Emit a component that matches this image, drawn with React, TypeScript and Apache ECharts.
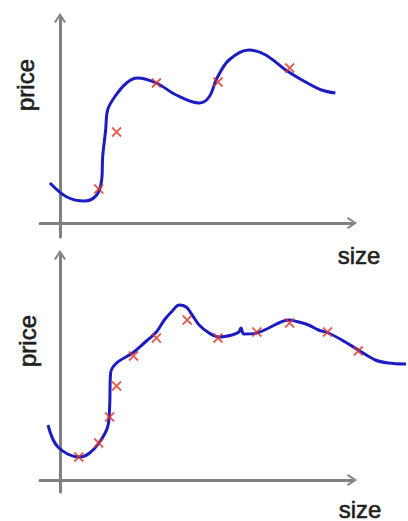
import React, { useEffect, useRef } from "react";
import * as echarts from "echarts";

// Top panel (smooth over-fit curve through 5 points)
const topCurveX = [-10, 7, 25, 37, 42, 43, 46, 48, 55, 67, 78, 97, 117, 140, 150, 158, 170, 190, 207, 227, 247, 263, 277];
const topCurveY = [40, 26, 22, 28, 43, 66, 93, 113, 126, 140, 145, 140, 128, 120, 126, 145, 163, 173, 168, 153, 141, 133, 130];
const topPointsX = [39, 57, 97, 159, 231];
const topPointsY = [34, 91, 140, 141, 155];

// Bottom panel (wiggly curve through 12 points)
const botCurveX = [-12, -2, 20, 30, 40, 48, 50, 51, 57, 73, 87, 97, 105, 113, 120, 127, 133, 140, 150, 160, 173, 180, 182, 185, 198, 210, 220, 230, 240, 250, 260, 270, 287, 300, 317, 330, 348];
const botCurveY = [55, 33, 23, 27, 38, 53, 73, 107, 117, 127, 139, 148, 160, 169, 175, 173, 165, 155, 147, 143, 145, 148, 152, 146, 147, 152, 157, 160, 158, 155, 150, 147, 138, 130, 120, 117, 116];
const botPointsX = [19, 39, 50, 57, 74, 97, 128, 159, 198, 231, 269, 300];
const botPointsY = [23, 37, 63, 94, 124, 142, 160, 142, 148, 157, 148, 129];

const axisTitleY = "price";
const axisTitleX = "size";

const zip = (xs: number[], ys: number[]) => xs.map((x, i) => [x, ys[i]]);

const AXIS_COLOR = "#808080";
const CURVE_COLOR = "#1c1cc0";
const MARK_COLOR = "#d63a2a";
const chevron = "path://M0 9 L6 0 L12 9 L10.2 10 L6 3.2 L1.8 10 Z";
const cross = "path://M0 0 L10 10 M10 0 L0 10";

function axisLine(show: boolean) {
  return {
    show,
    onZero: true,
    symbol: ["none", chevron],
    symbolSize: [13, 10],
    lineStyle: { color: AXIS_COLOR, width: 3 },
  };
}

export default function App() {
  const ref = useRef<HTMLDivElement>(null);
  useEffect(() => {
    if (!ref.current) return;
    const chart = echarts.init(ref.current, undefined, { renderer: "svg" });
    const mkX = (gi: number, max: number, show: boolean) => ({
      type: "value",
      gridIndex: gi,
      min: -20,
      max,
      show,
      axisLine: axisLine(show),
      axisTick: { show: false },
      axisLabel: { show: false },
      splitLine: { show: false },
    });
    const mkY = (gi: number, min: number, max: number, show: boolean) => ({
      type: "value",
      gridIndex: gi,
      min,
      max,
      show,
      axisLine: axisLine(show),
      axisTick: { show: false },
      axisLabel: { show: false },
      splitLine: { show: false },
    });
    const lineSeries = (gi: number, data: number[][]) => ({
      type: "line",
      xAxisIndex: gi,
      yAxisIndex: gi,
      data,
      smooth: 0.35,
      showSymbol: false,
      clip: false,
      lineStyle: { color: CURVE_COLOR, width: 3 },
      z: 3,
    });
    const scatterSeries = (gi: number, data: number[][]) => ({
      type: "scatter",
      xAxisIndex: gi,
      yAxisIndex: gi,
      data,
      clip: false,
      symbol: cross,
      symbolSize: 9,
      itemStyle: { color: "none", borderColor: MARK_COLOR, borderWidth: 1.8 },
      z: 4,
    });
    const textStyle = {
      fill: "#1f1f1f",
      stroke: "#1f1f1f",
      lineWidth: 0.6,
      fontSize: 24,
      fontFamily: "Liberation Sans, Arial, sans-serif",
    };
    chart.setOption({
      animation: false,
      backgroundColor: "#ffffff",
      grid: [
        // axis grids
        { left: 40, width: 312, top: 18, bottom: 284 },
        { left: 40, width: 312, top: 255, bottom: 29 },
        // data grids (same scale, wider so curves may run past the arrow)
        { left: 40, width: 370, top: 18, bottom: 284 },
        { left: 40, width: 370, top: 255, bottom: 29 },
      ],
      xAxis: [mkX(0, 292, true), mkX(1, 292, true), mkX(2, 350, false), mkX(3, 350, false)],
      yAxis: [
        mkY(0, -14, 205, true),
        mkY(1, -12, 225, true),
        mkY(2, -14, 205, false),
        mkY(3, -12, 225, false),
      ],
      series: [
        lineSeries(2, zip(topCurveX, topCurveY)),
        scatterSeries(2, zip(topPointsX, topPointsY)),
        lineSeries(3, zip(botCurveX, botCurveY)),
        scatterSeries(3, zip(botPointsX, botPointsY)),
      ],
      graphic: [
        { type: "text", x: 25, y: 85, rotation: Math.PI / 2, style: { ...textStyle, text: axisTitleY, align: "center", verticalAlign: "middle" } },
        { type: "text", x: 359, y: 255, style: { ...textStyle, text: axisTitleX, align: "center", verticalAlign: "middle" } },
        { type: "text", x: 27, y: 341, rotation: Math.PI / 2, style: { ...textStyle, text: axisTitleY, align: "center", verticalAlign: "middle" } },
        { type: "text", x: 360, y: 509, style: { ...textStyle, text: axisTitleX, align: "center", verticalAlign: "middle" } },
      ],
    });
    return () => chart.dispose();
  }, []);
  return <div ref={ref} style={{ position: "fixed", left: 0, top: 0, width: 408, height: 521 }} />;
}
